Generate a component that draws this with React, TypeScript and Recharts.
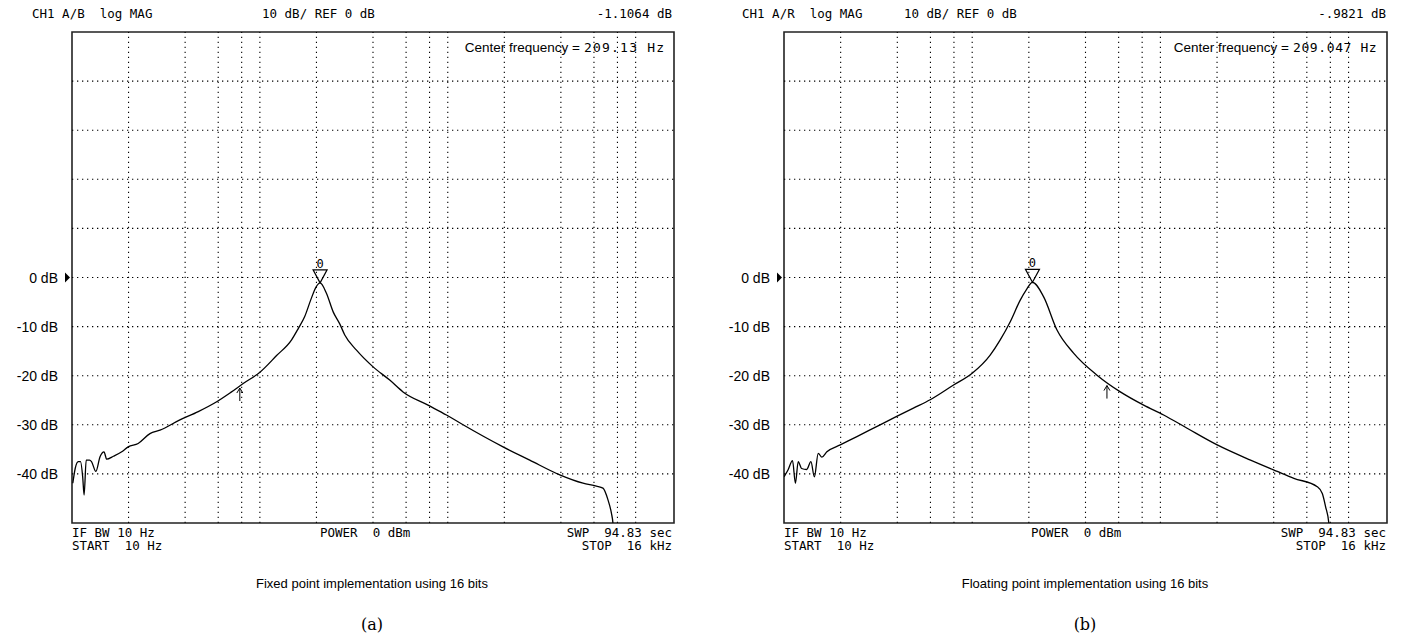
import React from 'react';
import {
  LineChart,
  Line,
  XAxis,
  YAxis,
  ReferenceLine,
  ReferenceArea,
  ReferenceDot,
} from 'recharts';

// y ticks with labels, grid lines (dB) and log-frequency grid (Hz)
const yTicks = [0, -10, -20, -30, -40];
const hGrid = [40, 30, 20, 10, 0, -10, -20, -30, -40];
const vGrid = [20, 40, 60, 80, 100, 200, 400, 600, 800, 1000, 2000, 4000, 6000, 8000, 10000];

// (a) fixed point trace
const fixedFreq = [
  10.1, 10.4, 10.8, 11.1, 11.4, 11.6, 11.9, 12.4, 12.7, 13.4, 14.1, 14.8, 15.3, 16.6, 18.4,
  19.9, 22.5, 26, 29.4, 37.5, 47, 58.9, 70, 81.5, 100, 122.7, 147.5, 160, 173, 188, 198.6, 209.13,
  226, 245.5, 266.5, 283, 326.8, 400.5, 491, 578, 785, 984, 1206, 1969, 2731, 3945, 5248,
  6180, 6700, 7125, 7430, 7570, 7800,
];
const fixedDb = [
  -41.9, -38.9, -37.5, -37.5, -40.6, -44.3, -37.2, -37.2, -37.5, -39.5, -36.5, -35.5, -37.0, -36.4, -35.5,
  -34.5, -33.8, -31.8, -31.1, -29.0, -27.3, -25.3, -23.4, -21.6, -19.3, -15.9, -12.7, -10.4, -8.0, -4.2, -2.0, -1.1,
  -3.2, -7.0, -9.5, -11.7, -14.8, -18.2, -20.9, -23.3, -26.0, -28.0, -30.0, -34.5, -37.2, -40.2, -41.9,
  -42.5, -42.9, -45.3, -48.0, -50.0, -60,
];

// (b) floating point trace
const floatFreq = [
  10, 10.5, 11.1, 11.5, 11.9, 12.4, 13.2, 13.9, 14.5, 15.2, 15.9, 16.9, 19.9, 24.4, 32.4,
  39.7, 48.7, 59.8, 79.6, 100, 124.6, 140.9, 159.3, 180, 193.8, 209.047, 239.4, 282.2, 345.6,
  460.5, 612.5, 815, 1041, 1387, 2004, 3013, 4178, 5120, 6817, 7250, 7550, 7853, 8100,
];
const floatDb = [
  -40.6, -39.2, -37.3, -41.9, -37.5, -38.9, -39.1, -37.5, -40.6, -35.8, -36.6, -35.5, -34.1, -32.4, -30.0,
  -28.3, -26.6, -24.9, -21.9, -19.5, -15.8, -12.7, -9.0, -4.6, -2.5, -0.98, -3.9, -10.7, -15.4,
  -19.9, -23.3, -26.0, -28.0, -30.7, -34.1, -37.2, -39.5, -40.9, -42.6, -44.0, -46.7, -50, -60,
];

// markers: [peak freq, peak dB, arrow freq, arrow dB]
const fixedMarkers = [209.13, -1.1, 78.2, -21.9];
const floatMarkers = [209.047, -0.98, 520, -21.4];

const mono = '"DejaVu Sans Mono", monospace';
const sans = '"Liberation Sans", Arial, sans-serif';

const DbTick = ({ x, y, payload }: any) => (
  <g>
    <text x={x - 14} y={y} dy={5} textAnchor="end" fontFamily={sans} fontSize={14} fill="#000">
      {`${payload.value} dB`}
    </text>
    {payload.value === 0 && (
      <path d={`M${x - 7},${y - 5} L${x - 2},${y} L${x - 7},${y + 5} Z`} fill="#000" />
    )}
  </g>
);

const PeakShape = ({ cx, cy }: any) => (
  <g>
    <path d={`M${cx - 7},${cy - 13} L${cx + 7},${cy - 13} L${cx},${cy} Z`} fill="none" stroke="#000" strokeWidth={1.2} />
    <text x={cx} y={cy - 15} textAnchor="middle" fontFamily={mono} fontSize={12} fill="#000" stroke="none">0</text>
  </g>
);

const ArrowShape = ({ cx, cy }: any) => (
  <path
    d={`M${cx},${cy + 3} L${cx},${cy + 16} M${cx - 3},${cy + 8} L${cx},${cy + 3} L${cx + 3},${cy + 8}`}
    fill="none"
    stroke="#000"
    strokeWidth={1}
  />
);

type PanelProps = {
  left: number;
  width: number;
  marginRight: number;
  freq: number[];
  db: number[];
  markers: number[];
};

const Panel = ({ left, width, marginRight, freq, db, markers }: PanelProps) => {
  const data = freq.map((f, i) => ({ f, db: db[i] }));
  return (
    <div style={{ position: 'absolute', left, top: 0 }}>
      <LineChart
        width={width}
        height={638}
        data={data}
        margin={{ top: 32, right: marginRight, bottom: 115, left: 0 }}
      >
        <XAxis dataKey="f" type="number" scale="log" domain={[10, 16000]} allowDataOverflow hide />
        <YAxis
          type="number"
          domain={[-50, 50]}
          ticks={yTicks}
          allowDataOverflow
          width={72}
          axisLine={false}
          tickLine={false}
          tickSize={0}
          tickMargin={0}
          tick={<DbTick />}
        />
        {hGrid.map((v) => (
          <ReferenceLine key={`h${v}`} y={v} stroke="#000" strokeWidth={1.1} strokeDasharray="1.3 3.7" />
        ))}
        {vGrid.map((v) => (
          <ReferenceLine key={`v${v}`} x={v} stroke="#000" strokeWidth={1.1} strokeDasharray="1.3 3.7" />
        ))}
        <ReferenceArea x1={10} x2={16000} y1={-50} y2={50} fill="none" stroke="#222" strokeWidth={1.6} />
        <Line
          dataKey="db"
          type="monotoneX"
          stroke="#000"
          strokeWidth={1.3}
          dot={false}
          isAnimationActive={false}
        />
        <ReferenceDot x={markers[0]} y={markers[1]} r={0} shape={<PeakShape />} />
        <ReferenceDot x={markers[2]} y={markers[3]} r={0} shape={<ArrowShape />} />
      </LineChart>
    </div>
  );
};

const T = (props: any) => <text fill="#000" xmlSpace="preserve" style={{ whiteSpace: 'pre' }} {...props} />;

export default function App() {
  return (
    <div style={{ position: 'absolute', left: 0, top: 0, width: 1401, height: 638, background: '#fff' }}>
      <Panel left={0} width={700} marginRight={26} freq={fixedFreq} db={fixedDb} markers={fixedMarkers} />
      <Panel left={712} width={689} marginRight={14} freq={floatFreq} db={floatDb} markers={floatMarkers} />
      <svg width={1401} height={638} style={{ position: 'absolute', left: 0, top: 0, pointerEvents: 'none' }}>
        <g fontFamily={mono} fontSize={12.5}>
          <T x={32} y={18}>CH1 A/B  log MAG</T>
          <T x={262} y={18}>10 dB/ REF 0 dB</T>
          <T x={672} y={18} textAnchor="end">-1.1064 dB</T>
          <T x={742} y={18}>CH1 A/R  log MAG</T>
          <T x={904} y={18}>10 dB/ REF 0 dB</T>
          <T x={1386} y={18} textAnchor="end">-.9821 dB</T>

          <T x={72} y={537}>IF BW 10 Hz</T>
          <T x={72} y={550}>START  10 Hz</T>
          <T x={320} y={537}>POWER  0 dBm</T>
          <T x={672} y={537} textAnchor="end">SWP  94.83 sec</T>
          <T x={672} y={550} textAnchor="end">STOP  16 kHz</T>

          <T x={784} y={537}>IF BW 10 Hz</T>
          <T x={784} y={550}>START  10 Hz</T>
          <T x={1031} y={537}>POWER  0 dBm</T>
          <T x={1386} y={537} textAnchor="end">SWP  94.83 sec</T>
          <T x={1386} y={550} textAnchor="end">STOP  16 kHz</T>

          <T x={584} y={52} fontSize={13} letterSpacing={1.2}>209.13 Hz</T>
          <T x={1293} y={52} fontSize={13} letterSpacing={0.6}>209.047 Hz</T>
        </g>
        <g fontFamily={sans} fontSize={13.5}>
          <T x={580} y={52} textAnchor="end">Center frequency =</T>
          <T x={1289} y={52} textAnchor="end">Center frequency =</T>
          <T x={372} y={588} textAnchor="middle" fontSize={13}>Fixed point implementation using 16 bits</T>
          <T x={1085} y={588} textAnchor="middle" fontSize={13}>Floating point implementation using 16 bits</T>
        </g>
        <g fontFamily='"DejaVu Serif", "Liberation Serif", serif' fontSize={16}>
          <T x={372} y={630} textAnchor="middle">(a)</T>
          <T x={1085} y={630} textAnchor="middle">(b)</T>
        </g>
      </svg>
    </div>
  );
}
